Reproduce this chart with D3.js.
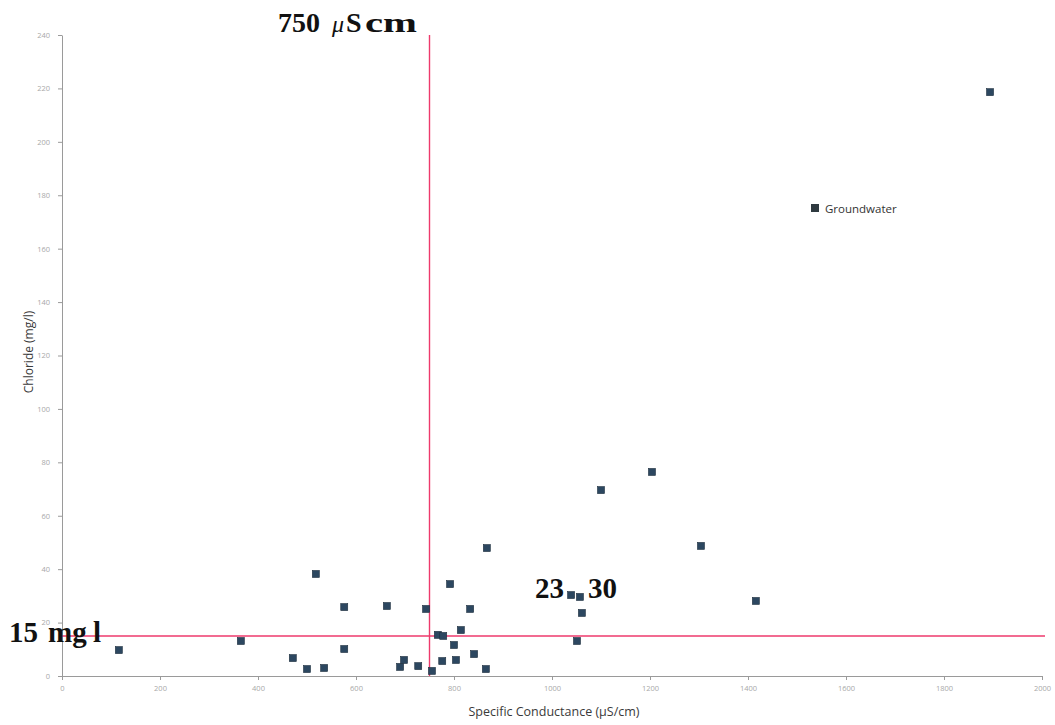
<!DOCTYPE html>
<html>
<head>
<meta charset="utf-8">
<script src="https://cdn.jsdelivr.net/npm/d3@7"></script>
<style>
  html, body { margin: 0; padding: 0; background: #fff; }
  svg { display: block; }
</style>
</head>
<body>
<svg id="chart" width="1055" height="725"></svg>
<script>
// Groundwater samples: specific conductance (µS/cm) vs chloride (mg/l)
const conductance = [116, 365, 471, 500, 535, 518, 576, 576, 663, 690, 698, 727, 743, 755,
  767, 778, 776, 792, 800, 804, 814, 833, 841, 865, 867, 1039, 1057, 1061, 1051, 1100,
  1204, 1304, 1416, 1894];
const chloride = [9.7, 13.1, 6.7, 2.6, 3.0, 38.2, 25.8, 10.1, 26.2, 3.4, 6.0, 3.7, 25.1, 1.9,
  15.4, 15.0, 5.6, 34.4, 11.6, 6.0, 17.2, 25.1, 8.2, 2.6, 47.9, 30.3, 29.6, 23.6, 13.1, 69.6,
  76.4, 48.7, 28.1, 218.6];

const xTicks = [0, 200, 400, 600, 800, 1000, 1200, 1400, 1600, 1800, 2000];
const yTicks = [0, 20, 40, 60, 80, 100, 120, 140, 160, 180, 200, 220, 240];

// Guideline thresholds
const conductanceLimit = [750];
const chlorideLimit = [15];

const seriesName = "Groundwater";

const svg = d3.select("#chart");
const margin = { left: 62, right: 13, top: 35, bottom: 49 };
const W = 1055, H = 725;

const x = d3.scaleLinear().domain([0, 2000]).range([margin.left, W - margin.right]);
const y = d3.scaleLinear().domain([0, 240]).range([H - margin.bottom, margin.top]);

const axisColor = "#9a9a9a";
const tickText = "#a8a8a8";
const fmt = d3.format("d");

// X axis
const gx = svg.append("g")
  .attr("transform", `translate(0,${y(0)})`)
  .call(d3.axisBottom(x).tickValues(xTicks).tickFormat(fmt).tickSize(4).tickSizeOuter(0).tickPadding(6));
gx.select(".domain").attr("stroke", axisColor);
gx.selectAll(".tick line").attr("stroke", axisColor);
gx.selectAll(".tick text").attr("fill", tickText).attr("font-size", 7.5)
  .attr("font-family", "Open Sans, sans-serif");

// Y axis
const gy = svg.append("g")
  .attr("transform", `translate(${x(0)},0)`)
  .call(d3.axisLeft(y).tickValues(yTicks).tickFormat(fmt).tickSize(4).tickSizeOuter(0).tickPadding(8));
gy.select(".domain").attr("stroke", axisColor);
gy.selectAll(".tick line").attr("stroke", axisColor);
gy.selectAll(".tick text").attr("fill", tickText).attr("font-size", 7.5)
  .attr("font-family", "Open Sans, sans-serif");

// Axis titles
svg.append("text")
  .attr("x", (x(0) + x(2000)) / 2 + 2)
  .attr("y", 716)
  .attr("text-anchor", "middle")
  .attr("font-family", "Open Sans, sans-serif")
  .attr("font-size", 12.5)
  .attr("fill", "#3a3a3a")
  .text("Specific Conductance (µS/cm)");

svg.append("text")
  .attr("transform", `translate(33,${352}) rotate(-90)`)
  .attr("text-anchor", "middle")
  .attr("font-family", "Open Sans, sans-serif")
  .attr("font-size", 12)
  .attr("fill", "#3a3a3a")
  .text("Chloride (mg/l)");

// Threshold lines
const redLine = "#ee3a6c";
svg.selectAll("line.vlimit").data(conductanceLimit).join("line")
  .attr("class", "vlimit")
  .attr("x1", d => x(d)).attr("x2", d => x(d))
  .attr("y1", y(240)).attr("y2", y(0))
  .attr("stroke", redLine).attr("stroke-width", 1.4);

svg.selectAll("line.hlimit").data(chlorideLimit).join("line")
  .attr("class", "hlimit")
  .attr("x1", x(0)).attr("x2", W - 10)
  .attr("y1", d => y(d)).attr("y2", d => y(d))
  .attr("stroke", redLine).attr("stroke-width", 1.4);

// Sample markers
const points = conductance.map((c, i) => ({ c, cl: chloride[i] }));
const s = 7;
svg.append("g").selectAll("rect").data(points).join("rect")
  .attr("x", d => x(d.c) - s / 2)
  .attr("y", d => y(d.cl) - s / 2)
  .attr("width", s).attr("height", s)
  .attr("fill", "#2c4760")
  .attr("stroke", "#1e2f3e")
  .attr("stroke-width", 0.6);

// Legend
svg.append("rect").attr("x", 811).attr("y", 204).attr("width", 8).attr("height", 8)
  .attr("fill", "#2f3a40");
svg.append("text").attr("x", 825).attr("y", 213)
  .attr("font-family", "Open Sans, sans-serif").attr("font-size", 11.5)
  .attr("fill", "#333").text(seriesName);

// Annotations
const serif = "Liberation Serif, Times New Roman, serif";
const ann = svg.append("g").attr("font-family", serif).attr("font-weight", "bold")
  .attr("fill", "#111");

const topLabel = ann.append("text").attr("x", 278).attr("y", 32).attr("font-size", 28);
topLabel.append("tspan").text("750");
topLabel.append("tspan").attr("x", 332).attr("font-style", "italic").attr("font-weight", "normal")
  .attr("font-size", 24).text("μ");
topLabel.append("tspan").attr("x", 346).text("S");
ann.append("text").attr("x", 365).attr("y", 32).attr("font-size", 28)
  .attr("textLength", 52).attr("lengthAdjust", "spacingAndGlyphs").text("cm");

const leftLabel = ann.append("text").attr("x", 9).attr("y", 642).attr("font-size", 29);
leftLabel.append("tspan").text("15");
leftLabel.append("tspan").attr("x", 48).text("mg");
leftLabel.append("tspan").attr("x", 93).text("l");

ann.append("text").attr("x", 535).attr("y", 598).attr("font-size", 29).text("23");
ann.append("text").attr("x", 588).attr("y", 598).attr("font-size", 29).text("30");
</script>
</body>
</html>
